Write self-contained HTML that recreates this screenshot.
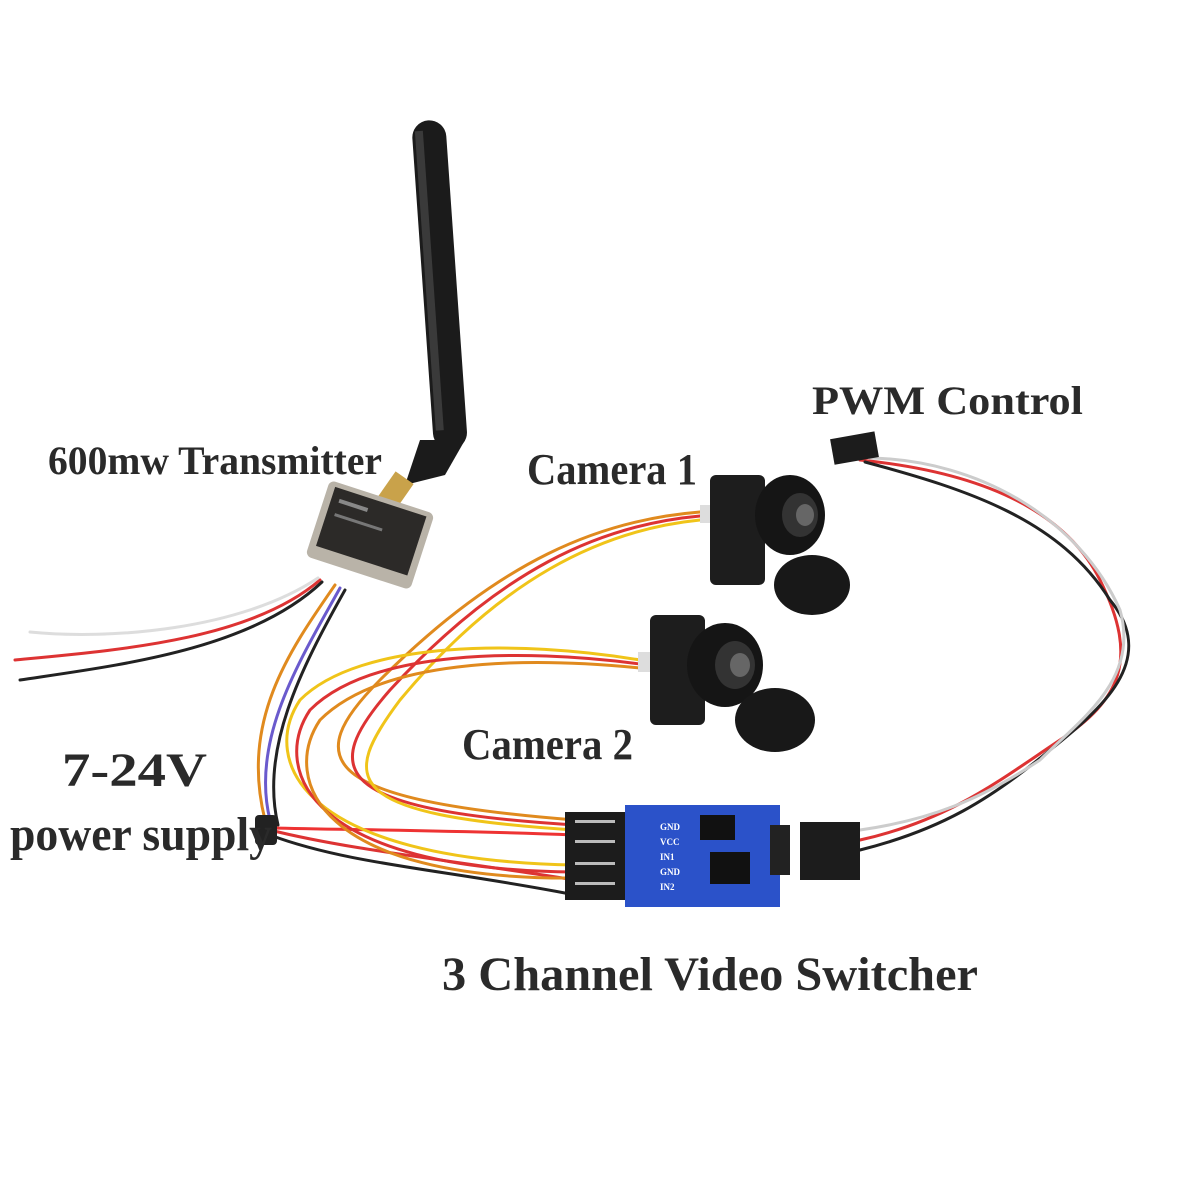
<!DOCTYPE html>
<html><head><meta charset="utf-8"><style>
html,body{margin:0;padding:0;background:#fff;width:1200px;height:1200px;overflow:hidden}
svg{display:block}
text{font-family:"Liberation Serif",serif;font-weight:bold;fill:#2a2a2a}
</style></head><body>
<svg width="1200" height="1200" viewBox="0 0 1200 1200" xmlns="http://www.w3.org/2000/svg">
<rect width="1200" height="1200" fill="#fff"/>
<g fill="none" stroke-width="3" stroke-linecap="round">
 <path d="M320 580 C250 640 120 650 15 660" stroke="#d33"/>
 <path d="M322 582 C250 650 120 665 20 680" stroke="#222"/>
 <path d="M318 578 C240 630 110 640 30 632" stroke="#ddd"/>
 <path d="M335 585 C290 650 240 720 265 820" stroke="#e08a1e"/>
 <path d="M340 588 C300 660 250 740 270 820" stroke="#6a5acd"/>
 <path d="M345 590 C300 670 260 750 278 825" stroke="#222"/>
 <path d="M270 830 C350 850 450 860 575 880" stroke="#d33"/>
 <path d="M270 835 C350 865 450 870 575 895" stroke="#222"/>
 <path d="M275 828 C350 830 450 830 575 835" stroke="#e33"/>
 <path d="M700 512 C600 520 500 560 380 680 C300 760 320 800 575 820" stroke="#e08a1e"/>
 <path d="M700 516 C600 525 500 570 390 690 C320 770 330 810 575 825" stroke="#d33"/>
 <path d="M700 520 C600 530 500 580 400 700 C340 780 340 815 575 830" stroke="#f0c419"/>
 <path d="M640 660 C520 640 360 640 300 700 C260 760 300 860 575 865" stroke="#f0c419"/>
 <path d="M640 664 C520 648 370 650 310 710 C270 770 310 870 575 872" stroke="#d33"/>
 <path d="M640 668 C520 656 380 660 320 720 C280 780 320 880 575 878" stroke="#e08a1e"/>
 <path d="M860 460 C960 470 1060 500 1100 580 C1140 660 1120 700 1060 740 C1000 780 950 820 860 840" stroke="#d33"/>
 <path d="M865 462 C970 490 1060 520 1110 600 C1160 660 1100 710 1050 750 C990 800 940 830 860 850" stroke="#222"/>
 <path d="M870 458 C980 460 1080 520 1120 610 C1140 680 1080 720 1040 760 C980 800 930 820 860 830" stroke="#ccc"/>
</g>
<g transform="rotate(-4 440 290)">
 <rect x="423" y="120" width="34" height="330" rx="17" fill="#1b1b1b"/>
 <rect x="426" y="130" width="8" height="300" fill="#3a3a3a"/>
</g>
<path d="M420 440 L465 440 L445 475 L405 485 Z" fill="#1b1b1b"/>
<rect x="385" y="475" width="22" height="30" transform="rotate(35 396 490)" fill="#c9a24a"/>
<g transform="rotate(18 370 535)">
 <rect x="315" y="495" width="110" height="80" rx="6" fill="#b9b3a8"/>
 <rect x="322" y="500" width="96" height="62" fill="#2c2a28"/>
 <rect x="330" y="510" width="30" height="4" fill="#888"/>
 <rect x="330" y="525" width="50" height="3" fill="#777"/>
</g>
<g>
 <rect x="700" y="505" width="14" height="18" fill="#ddd"/>
 <rect x="710" y="475" width="55" height="110" rx="6" fill="#1d1d1d"/>
 <ellipse cx="790" cy="515" rx="35" ry="40" fill="#151515"/>
 <ellipse cx="800" cy="515" rx="18" ry="22" fill="#333"/>
 <ellipse cx="805" cy="515" rx="9" ry="11" fill="#666"/>
 <ellipse cx="812" cy="585" rx="38" ry="30" fill="#181818"/>
</g>
<g>
 <rect x="638" y="652" width="14" height="20" fill="#ddd"/>
 <rect x="650" y="615" width="55" height="110" rx="6" fill="#1d1d1d"/>
 <ellipse cx="725" cy="665" rx="38" ry="42" fill="#151515"/>
 <ellipse cx="735" cy="665" rx="20" ry="24" fill="#333"/>
 <ellipse cx="740" cy="665" rx="10" ry="12" fill="#666"/>
 <ellipse cx="775" cy="720" rx="40" ry="32" fill="#181818"/>
</g>
<rect x="255" y="815" width="22" height="30" rx="4" fill="#222"/>
<rect x="565" y="812" width="65" height="88" fill="#1c1c1c"/>
<g fill="#bbb"><rect x="575" y="820" width="40" height="3"/><rect x="575" y="840" width="40" height="3"/><rect x="575" y="862" width="40" height="3"/><rect x="575" y="882" width="40" height="3"/></g>
<rect x="625" y="805" width="155" height="102" fill="#2b52c9"/>
<rect x="700" y="815" width="35" height="25" fill="#111"/>
<rect x="710" y="852" width="40" height="32" fill="#111"/>
<g font-size="9"><text x="660" y="830" style="fill:#fff">GND</text><text x="660" y="845" style="fill:#fff">VCC</text><text x="660" y="860" style="fill:#fff">IN1</text><text x="660" y="875" style="fill:#fff">GND</text><text x="660" y="890" style="fill:#fff">IN2</text></g>
<rect x="770" y="825" width="20" height="50" fill="#222"/>
<rect x="800" y="822" width="60" height="58" fill="#1c1c1c"/>
<rect x="832" y="435" width="45" height="26" transform="rotate(-10 855 448)" fill="#1c1c1c"/>
<text x="48" y="474" font-size="40" textLength="334" lengthAdjust="spacingAndGlyphs">600mw Transmitter</text>
<text x="527" y="484" font-size="44" textLength="170" lengthAdjust="spacingAndGlyphs">Camera 1</text>
<text x="812" y="414" font-size="40" textLength="271" lengthAdjust="spacingAndGlyphs">PWM Control</text>
<text x="462" y="759" font-size="44" textLength="171" lengthAdjust="spacingAndGlyphs">Camera 2</text>
<text x="62" y="786" font-size="48" textLength="145" lengthAdjust="spacingAndGlyphs">7-24V</text>
<text x="10" y="850" font-size="48" textLength="262" lengthAdjust="spacingAndGlyphs">power supply</text>
<text x="442" y="990" font-size="48" textLength="536" lengthAdjust="spacingAndGlyphs">3 Channel Video Switcher</text>
</svg>
</body></html>
